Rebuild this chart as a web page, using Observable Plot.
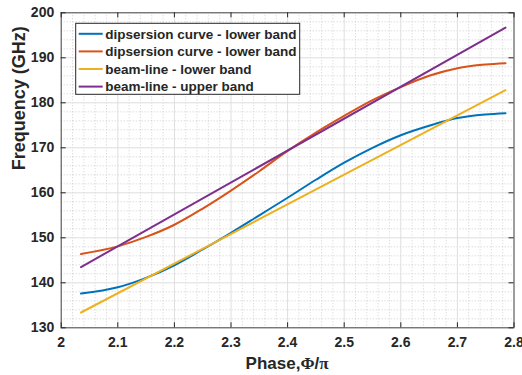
<!DOCTYPE html>
<html><head><meta charset="utf-8">
<script src="https://cdn.jsdelivr.net/npm/d3@7"></script>
<script src="https://cdn.jsdelivr.net/npm/@observablehq/plot@0.6"></script>
<style>
html,body{margin:0;padding:0;background:#fff;}
#chart{position:relative;width:522px;height:375px;}
svg{font-family:"Liberation Sans",Arial,sans-serif;}
</style></head><body><div id="chart"></div>
<script>
// ---- data ----
const phase = [2.035, 2.1, 2.15, 2.2, 2.25, 2.3, 2.35, 2.4, 2.45, 2.5, 2.55, 2.6, 2.65, 2.7, 2.75, 2.785];
const dispersionLowerA = [137.6, 139.0, 141.1, 143.9, 147.4, 151.1, 155.0, 158.9, 162.9, 166.7, 170.0, 172.8, 174.9, 176.6, 177.4, 177.7];
const dispersionLowerB = [146.4, 148.1, 150.2, 152.9, 156.5, 160.5, 164.8, 169.3, 173.4, 177.1, 180.6, 183.5, 186.0, 187.7, 188.5, 188.8];
const beamPhase = [2.035, 2.785];
const beamLower = [133.4, 182.8];
const beamUpper = [143.5, 196.7];
const seriesNames = ["dipsersion curve - lower band", "dipsersion curve - lower band", "beam-line - lower band", "beam-line - upper band"];
const seriesColors = ["#0072BD", "#D95319", "#EDB120", "#7E2F8E"];
const xTicks = [2, 2.1, 2.2, 2.3, 2.4, 2.5, 2.6, 2.7, 2.8];
const yTicks = [130, 140, 150, 160, 170, 180, 190, 200];
const xLabelParts = [["Phase,", "sans"], ["\u03A6", "serif"], ["/", "sans"], ["\u03C0", "serif"]];
const yLabel = "Frequency (GHz)";

// ---- build table ----
const seriesX = [phase, phase, beamPhase, beamPhase];
const seriesY = [dispersionLowerA, dispersionLowerB, beamLower, beamUpper];
const rows = [];
seriesY.forEach((ys, s) => ys.forEach((v, i) => rows.push({phase: seriesX[s][i], freq: v, s, color: seriesColors[s]})));

const W = 522, H = 375, mL = 60.7, mR = 8.5, mT = 12.3, mB = 47.7;
const innerW = W - mL - mR, innerH = H - mT - mB;
const minorX = d3.range(0, 41).map(i => +(2 + i * 0.02).toFixed(2)).filter(v => !xTicks.includes(v));
const minorY = d3.range(130, 201, 2).filter(v => v % 10 !== 0);
const ink = "#262626";

const chart = Plot.plot({
  width: W, height: H,
  marginLeft: mL, marginRight: mR, marginTop: mT, marginBottom: mB,
  style: {fontFamily: '"Liberation Sans", Arial, sans-serif', background: "#fff"},
  x: {domain: [2, 2.8]},
  y: {domain: [130, 200]},
  color: {type: "identity"},
  marks: [
    Plot.ruleX(minorX, {stroke: "#c4c4c4", strokeDasharray: "1,2", strokeWidth: 0.8}),
    Plot.ruleY(minorY, {stroke: "#c4c4c4", strokeDasharray: "1,2", strokeWidth: 0.8}),
    Plot.ruleX(xTicks, {stroke: "#dedede", strokeWidth: 1}),
    Plot.ruleY(yTicks, {stroke: "#dedede", strokeWidth: 1}),
    Plot.line(rows, {x: "phase", y: "freq", z: "s", stroke: "color", strokeWidth: 2, curve: "monotone-x"}),
    Plot.frame({stroke: "#4a4a4a", strokeWidth: 1}),
    Plot.tickX(xTicks, {x: d => d, stroke: ink, insetTop: innerH - 5}),
    Plot.tickX(xTicks, {x: d => d, stroke: ink, insetBottom: innerH - 5}),
    Plot.tickY(yTicks, {y: d => d, stroke: ink, insetRight: innerW - 5}),
    Plot.tickY(yTicks, {y: d => d, stroke: ink, insetLeft: innerW - 5}),
    Plot.axisX(xTicks, {tickSize: 0, tickPadding: 9, fontSize: 14, fontWeight: "bold", fill: ink, tickFormat: d => String(d), label: null}),
    Plot.axisY(yTicks, {tickSize: 0, tickPadding: 7, fontSize: 14, fontWeight: "bold", fill: ink, tickFormat: d => String(d), label: null}),
    Plot.text([yLabel], {text: d => d, frameAnchor: "left", dx: -42, rotate: -90, fontSize: 18, fontWeight: "bold", fill: ink})
  ]
});
document.getElementById("chart").appendChild(chart);

const svg = d3.select(chart);
// x-axis label with mixed fonts
const xs = chart.scale("x").range;
const xl = svg.append("text")
  .attr("x", (xs[0] + xs[1]) / 2).attr("y", H - 6)
  .attr("text-anchor", "middle").attr("fill", ink)
  .attr("font-size", 17).attr("font-weight", "bold");
xLabelParts.forEach(([t, f]) => xl.append("tspan")
  .attr("font-family", f === "serif" ? '"Liberation Serif","Times New Roman",serif' : '"Liberation Sans",Arial,sans-serif')
  .text(t));

// legend
const lg = svg.append("g").attr("transform", `translate(${xs[0] + 15},${mT + 11})`).attr("text-anchor", "start");
lg.append("rect").attr("x", 0).attr("y", 0).attr("width", 224).attr("height", 71)
  .attr("fill", "#fff").attr("stroke", ink).attr("stroke-width", 1);
seriesNames.forEach((name, i) => {
  const cy = 10.5 + i * 17.6;
  lg.append("line").attr("x1", 3).attr("x2", 27).attr("y1", cy).attr("y2", cy)
    .attr("stroke", seriesColors[i]).attr("stroke-width", 2);
  lg.append("text").attr("x", 29.5).attr("y", cy).attr("dy", "0.35em").attr("text-anchor", "start")
    .attr("font-size", 13.5).attr("font-weight", "bold").attr("fill", ink).text(name);
});
</script></body></html>
